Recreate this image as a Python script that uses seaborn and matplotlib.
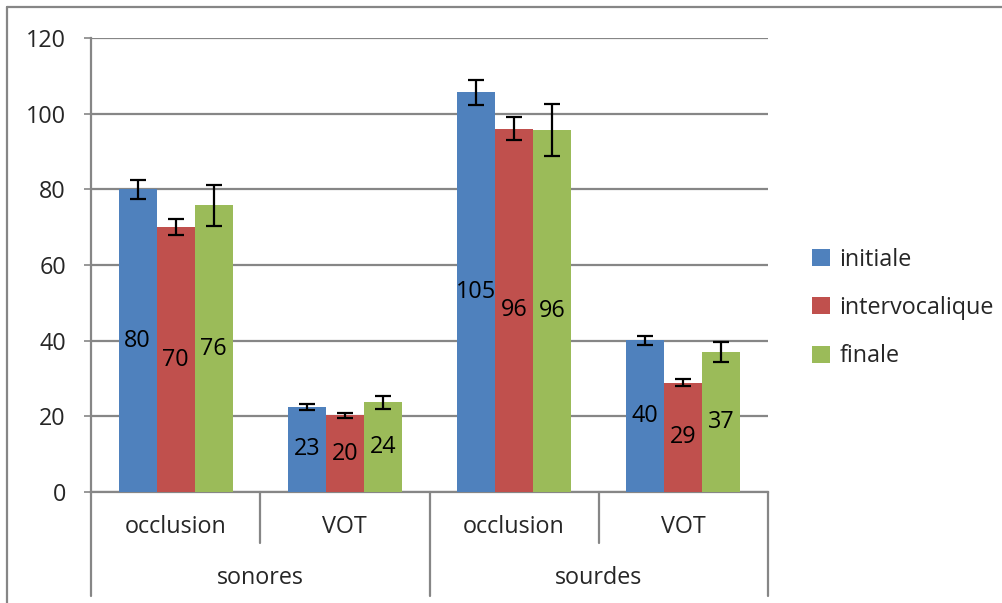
import matplotlib
matplotlib.use("Agg")
import matplotlib.pyplot as plt
import matplotlib.transforms as mtransforms
from matplotlib.lines import Line2D
from matplotlib.patches import Patch
import seaborn as sns
import pandas as pd

# ---- data ----
groups = ["sonores", "sonores", "sourdes", "sourdes"]
measures = ["occlusion", "VOT", "occlusion", "VOT"]
positions = ["initiale", "intervocalique", "finale"]
initiale = [80.0, 22.5, 105.6, 40.1]
intervocalique = [70.0, 20.3, 96.0, 28.9]
finale = [75.8, 23.7, 95.7, 37.0]
err_initiale = [2.5, 0.8, 3.2, 1.2]
err_intervocalique = [2.2, 0.7, 3.0, 0.9]
err_finale = [5.4, 1.8, 6.8, 2.7]
value_labels = {
    "initiale": ["80", "23", "105", "40"],
    "intervocalique": ["70", "20", "96", "29"],
    "finale": ["76", "24", "96", "37"],
}
yticks = [0, 20, 40, 60, 80, 100, 120]

colors = ["#4F81BD", "#C0504D", "#9BBB59"]
GRAY = "#868686"
FONT = ["Open Sans", "DejaVu Sans"]
FS = 16.8

vals = {"initiale": initiale, "intervocalique": intervocalique, "finale": finale}
errs = {"initiale": err_initiale, "intervocalique": err_intervocalique, "finale": err_finale}
keys = [f"{g}|{m}" for g, m in zip(groups, measures)]
rows = []
for p in positions:
    for i, k in enumerate(keys):
        rows.append({"cat": k, "position": p, "value": vals[p][i], "err": errs[p][i]})
df = pd.DataFrame(rows)

sns.set_style("white")
plt.rcParams["font.family"] = FONT

fig = plt.figure(figsize=(10.03, 6.03), dpi=100)
ax = fig.add_axes([91 / 1003, 1 - 492 / 603, (768 - 91) / 1003, (492 - 38) / 603])

sns.barplot(data=df, x="cat", y="value", hue="position", order=keys,
            hue_order=positions, palette=colors, saturation=1, width=0.675,
            errorbar=None, ax=ax, legend=False, zorder=3)

for cont, p in zip(ax.containers, positions):
    for b in cont:
        b.set_edgecolor("none")
    xs = [b.get_x() + b.get_width() / 2 for b in cont]
    ax.errorbar(xs, vals[p], yerr=errs[p], fmt="none", ecolor="black",
                elinewidth=1.6, capsize=6, capthick=1.6, zorder=5)
    ax.bar_label(cont, labels=value_labels[p], label_type="center",
                 fontsize=FS, color="black", zorder=6)

ax.set_xlim(-0.5, 3.5)
ax.set_ylim(0, 120)
ax.set_yticks(yticks)
ax.set_yticklabels([str(t) for t in yticks], fontsize=FS)
ax.yaxis.grid(True, color=GRAY, linewidth=1.6, zorder=0)
ax.set_axisbelow(True)
ax.tick_params(axis="y", length=5, width=1.2, color=GRAY, pad=13, left=True)
ax.set_xticks(range(4))
ax.set_xticklabels([])
ax.tick_params(axis="x", length=0)
ax.set_xlabel("")
ax.set_ylabel("")
for s in ["top", "right"]:
    ax.spines[s].set_visible(False)
for s in ["left", "bottom"]:
    ax.spines[s].set_color(GRAY)
    ax.spines[s].set_linewidth(1.6)

trans = mtransforms.blended_transform_factory(ax.transData, ax.transAxes)
ah = 492 - 38
for i, m in enumerate(measures):
    ax.text(i, -(527 - 492) / ah, m, transform=trans, ha="center", va="center",
            fontsize=FS, clip_on=False)
for gx, g in [(0.5, "sonores"), (2.5, "sourdes")]:
    ax.text(gx, -(578 - 492) / ah, g, transform=trans, ha="center", va="center",
            fontsize=FS, clip_on=False)
for x in [0.5, 2.5]:
    ax.add_line(Line2D([x, x], [0, -(543 - 492) / ah], transform=trans,
                       color=GRAY, lw=1.6, clip_on=False))
for x in [-0.5, 1.5, 3.5]:
    ax.add_line(Line2D([x, x], [0, -(596 - 492) / ah], transform=trans,
                       color=GRAY, lw=1.6, clip_on=False))

# chart-area border (cropped at right and bottom)
fig.add_artist(Line2D([7 / 1003, 1.01], [1 - 7 / 603, 1 - 7 / 603],
                      transform=fig.transFigure, color=GRAY, lw=1.6))
fig.add_artist(Line2D([7 / 1003, 7 / 1003], [-0.01, 1 - 7 / 603],
                      transform=fig.transFigure, color=GRAY, lw=1.6))

handles = [Patch(facecolor=c, edgecolor="none") for c in colors]
fig.legend(handles, positions, loc="center left",
           bbox_to_anchor=(803 / 1003, 1 - 308 / 603), frameon=False,
           fontsize=FS, handlelength=0.75, handleheight=0.75,
           handletextpad=0.4, labelspacing=1.05, borderaxespad=0)

fig.savefig("out.png", dpi=100)
